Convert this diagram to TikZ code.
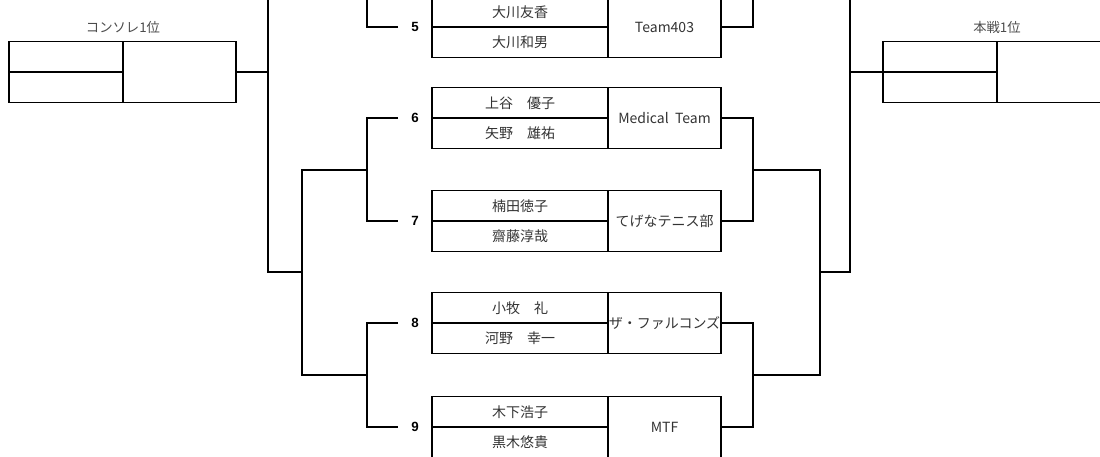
\documentclass[tikz,border=0pt]{standalone}
\usepackage{fontspec}
\setmainfont{Noto Sans CJK JP}
\newfontfamily\numfont{Liberation Sans}
\usetikzlibrary{positioning}

\begin{document}
\begin{tikzpicture}[
        x=0.75pt, y=-0.75pt,
        line/.style = {line width=1pt},
        namebox/.style = {draw, line width=1pt, outer sep=0pt, inner sep=0pt,
                minimum width=132pt, minimum height=22.75pt,
                text=black!80, font=\fontsize{10.5}{12}\selectfont},
        teambox/.style = {namebox, minimum width=84.75pt, minimum height=45.5pt},
        seedbox/.style = {namebox, minimum width=85.5pt},
        seedteam/.style = {teambox},
        numlabel/.style = {minimum width=25.5pt, inner sep=0pt, outer sep=0pt,
                font=\numfont\bfseries\fontsize{10}{12}\selectfont},
        seedlabel/.style = {inner sep=0pt, text=black!70,
                font=\fontsize{10}{12}\selectfont}
    ]
    \useasboundingbox (0,0) rectangle (1100,457);
    \clip (0,0) rectangle (1100,457);

    % seeds
    \node[seedbox, anchor=south west] (c1a) at (9,72) {};
    \node[seedbox, below=0pt of c1a] (c1b) {};
    \node[seedteam, anchor=west] (c1t) at (c1a.south east) {};
    \node[seedlabel] (c1l) at (123,27) {コンソレ1位};

    \node[seedbox, anchor=south west] (s1a) at (883,72) {};
    \node[seedbox, below=0pt of s1a] (s1b) {};
    \node[seedteam, anchor=west] (s1t) at (s1a.south east) {};
    \node[seedlabel] (s1l) at (997,27) {本戦1位};

    % matches
    \node[namebox, anchor=south west] (n5a) at (432,27) {大川友香};
    \node[namebox, below=0pt of n5a] (n5b) {大川和男};
    \node[teambox, anchor=west] (t5) at (n5a.south east) {Team403};
    \node[numlabel, anchor=east] (no5) at (n5a.south west) {5};

    \node[namebox, anchor=south west] (n6a) at (432,118) {上谷　優子};
    \node[namebox, below=0pt of n6a] (n6b) {矢野　雄祐};
    \node[teambox, anchor=west] (t6) at (n6a.south east) {Medical\ \ Team};
    \node[numlabel, anchor=east] (no6) at (n6a.south west) {6};

    \node[namebox, anchor=south west] (n7a) at (432,221) {楠田徳子};
    \node[namebox, below=0pt of n7a] (n7b) {齋藤淳哉};
    \node[teambox, anchor=west] (t7) at (n7a.south east) {てげなテニス部};
    \node[numlabel, anchor=east] (no7) at (n7a.south west) {7};

    \node[namebox, anchor=south west] (n8a) at (432,323) {小牧　礼};
    \node[namebox, below=0pt of n8a] (n8b) {河野　幸一};
    \node[teambox, anchor=west] (t8) at (n8a.south east) {ザ・ファルコンズ};
    \node[numlabel, anchor=east] (no8) at (n8a.south west) {8};

    \node[namebox, anchor=south west] (n9a) at (432,427) {木下浩子};
    \node[namebox, below=0pt of n9a] (n9b) {黒木悠貴};
    \node[teambox, anchor=west] (t9) at (n9a.south east) {MTF};
    \node[numlabel, anchor=east] (no9) at (n9a.south west) {9};

    % bracket joints
    \coordinate (L45) at (367,-20);
    \coordinate (L67) at (367,170);
    \coordinate (L89) at (367,375);
    \coordinate (L69) at (302,272);
    \coordinate (Ltop) at (268,-20);
    \coordinate (R45) at (753,-20);
    \coordinate (R67) at (753,170);
    \coordinate (R89) at (753,375);
    \coordinate (R69) at (820,272);
    \coordinate (Rtop) at (850,-20);

    % left side
    \draw[line] (no5.west) -| (L45);
    \draw[line] (no6.west) -| (L67) |- (no7.west);
    \draw[line] (no8.west) -| (L89) |- (no9.west);
    \draw[line] (L67) -| (L69) |- (L89);
    \draw[line] (L69) -| (Ltop);
    \draw[line] (c1t.east) -- (c1t.east -| Ltop);

    % right side
    \draw[line] (t5.east) -| (R45);
    \draw[line] (t6.east) -| (R67) |- (t7.east);
    \draw[line] (t8.east) -| (R89) |- (t9.east);
    \draw[line] (R67) -| (R69) |- (R89);
    \draw[line] (R69) -| (Rtop);
    \draw[line] (s1a.south west) -- (s1a.south west -| Rtop);
\end{tikzpicture}
\end{document}
